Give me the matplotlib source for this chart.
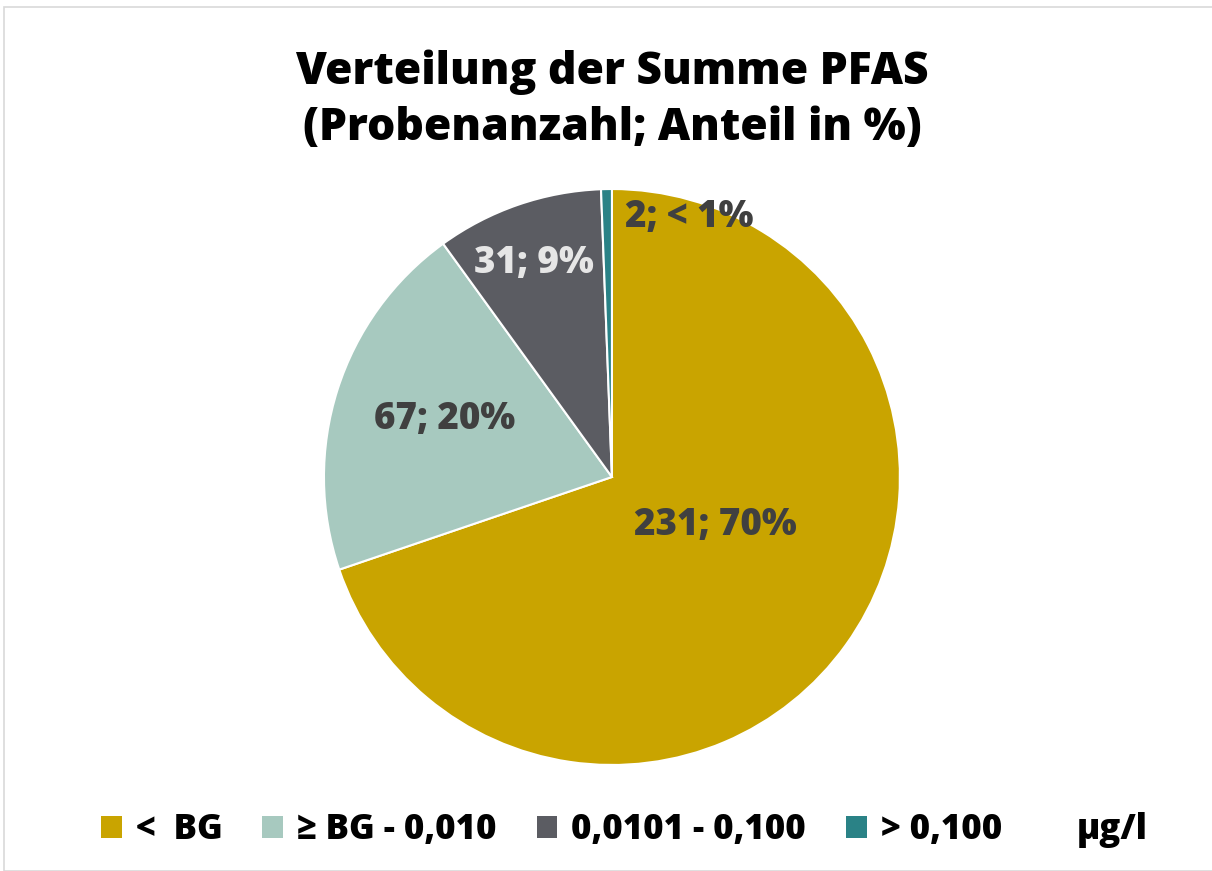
import matplotlib
matplotlib.use("Agg")
import matplotlib.pyplot as plt
from matplotlib.patches import Patch, Rectangle

plt.rcParams['font.family'] = ['Open Sans', 'DejaVu Sans']

# Daten
kategorien = ['<  BG', '≥ BG - 0,010', '0,0101 - 0,100', '> 0,100']
anzahl = [231, 67, 31, 2]
anteil_text = ['70%', '20%', '9%', '< 1%']
farben = ['#C9A400', '#A7C9BF', '#5B5C62', '#2A8286']
label_farben = ['#404040', '#404040', '#E6E6E6', '#404040']
# Positionen der Beschriftungen (Achsenkoordinaten, Radius 1)
label_pos = [(0.36, -0.17), (-0.58, 0.20), (-0.27, 0.74), (0.27, 0.90)]

fig = plt.figure(figsize=(12.12, 8.71), dpi=100)
fig.patches.append(Rectangle((4 / 1212, 0), 1.0, 1 - 7 / 871, transform=fig.transFigure,
                             fill=False, edgecolor='#D9D9D9', linewidth=1.2))

ax = fig.add_axes([0.2673, 0.1217, 0.4752, 0.6613])
ax.pie(anzahl, colors=farben, startangle=90, counterclock=False, radius=1,
       wedgeprops=dict(edgecolor='white', linewidth=1.5))
ax.set_xlim(-1, 1)
ax.set_ylim(-1, 1)
ax.set_aspect('equal')

for n, txt, (x, y), c in zip(anzahl, anteil_text, label_pos, label_farben):
    ax.text(x, y, f'{n}; {txt}', ha='center', va='center', fontsize=26.5,
            fontweight='heavy', color=c)

fig.text(0.505, 0.885, 'Verteilung der Summe PFAS\n(Probenanzahl; Anteil in %)',
         ha='center', va='center', fontsize=32, fontweight='heavy',
         color='black', linespacing=1.32)

handles = [Patch(facecolor=f, edgecolor='none') for f in farben]
handles.append(Patch(facecolor='none', edgecolor='none'))
leg = fig.legend(handles, kategorien + ['µg/l'], loc='center', bbox_to_anchor=(0.515, 0.047),
                 ncol=5, frameon=False, prop=dict(weight='heavy', size=25),
                 handlelength=0.6, handleheight=0.6, handletextpad=0.4, columnspacing=1.15)

fig.savefig('out.png', dpi=100)
